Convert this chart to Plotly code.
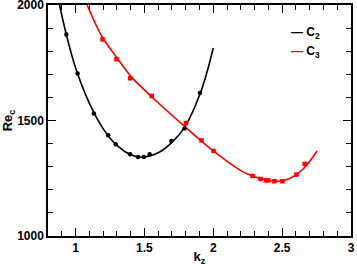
import plotly.graph_objects as go

# C2 mode: computed points and fitted curve
c2_kz = [0.933, 1.015, 1.133, 1.237, 1.292, 1.396, 1.454, 1.495, 1.538, 1.696, 1.792, 1.903]
c2_re = [1872, 1703, 1530, 1436, 1397, 1354, 1342, 1342, 1354, 1411, 1465, 1619]
c2_fit_kz = [0.884, 0.933, 1.0, 1.1, 1.2, 1.3, 1.4, 1.48, 1.6, 1.7, 1.8, 1.9, 1.95, 2.0]
c2_fit_re = [2000, 1872, 1728, 1575, 1465, 1392, 1352, 1341, 1360, 1405, 1478, 1609, 1700, 1814]

# C3 mode
c3_kz = [1.196, 1.297, 1.396, 1.553, 1.802, 1.915, 2.002, 2.285, 2.343, 2.382, 2.399, 2.444, 2.502, 2.604, 2.664]
c3_re = [1851, 1765, 1683, 1606, 1489, 1414, 1368, 1260, 1247, 1241, 1241, 1237, 1237, 1266, 1312]
c3_fit_kz = [1.084, 1.15, 1.2, 1.3, 1.4, 1.55, 1.8, 2.0, 2.2, 2.3, 2.4, 2.46, 2.55, 2.65, 2.754]
c3_fit_re = [2000, 1912, 1855, 1772, 1692, 1604, 1470, 1368, 1283, 1256, 1240, 1237, 1248, 1289, 1368]

x_ticks = [1, 1.5, 2, 2.5, 3]
y_ticks = [1000, 1500, 2000]

series_names = ['C<sub>2</sub>', 'C<sub>3</sub>']
series_colors = ['black', '#ff0000']

FONT = 'Liberation Sans'

fig = go.Figure()

# fitted curves
fig.add_trace(go.Scatter(x=c2_fit_kz, y=c2_fit_re, mode='lines', line_shape='spline',
                         line=dict(color=series_colors[0], width=1.6), showlegend=False))
fig.add_trace(go.Scatter(x=c3_fit_kz, y=c3_fit_re, mode='lines', line_shape='spline',
                         line=dict(color=series_colors[1], width=1.6), showlegend=False))

# data points
fig.add_trace(go.Scatter(x=c2_kz, y=c2_re, mode='markers',
                         marker=dict(color=series_colors[0], size=4.5, symbol='circle'),
                         showlegend=False))
fig.add_trace(go.Scatter(x=c3_kz, y=c3_re, mode='markers',
                         marker=dict(color=series_colors[1], size=4.5, symbol='square'),
                         showlegend=False))

axis_common = dict(
    showline=True, linecolor='black', linewidth=1.5, mirror='allticks',
    ticks='inside', ticklen=8, tickwidth=1.2, tickcolor='black',
    showgrid=False, zeroline=False, automargin=False, ticklabeloverflow='allow',
    tickfont=dict(family=FONT, size=12, color='black', weight='bold'),
)

fig.update_xaxes(
    range=[0.8, 3], tickvals=x_ticks, ticktext=[str(v) for v in x_ticks],
    minor=dict(ticks='inside', dtick=0.1, tick0=0, ticklen=5, tickwidth=1, tickcolor='black'),
    title=dict(text='<b>k<sub>z</sub></b>', font=dict(family=FONT, size=13, color='black')),
    **axis_common)
fig.update_yaxes(
    range=[1000, 2000], tickvals=y_ticks,
    minor=dict(ticks='inside', dtick=100, tick0=0, ticklen=5, tickwidth=1, tickcolor='black'),
    title=dict(text='<b>Re<sub>c</sub></b>', font=dict(family=FONT, size=13, color='black')),
    **axis_common)

# small legend: short coloured dash followed by the series label
for i, (name, col) in enumerate(zip(series_names, series_colors)):
    fig.add_annotation(
        xref='paper', yref='paper', x=0.795, y=0.88 - i * 0.082,
        xanchor='left', yanchor='middle', showarrow=False,
        text=f"<b><span style=\"color:{col}\">—</span> {name}</b>",
        font=dict(family=FONT, size=12, color='black'))

fig.update_layout(
    width=357, height=266,
    margin=dict(l=48, r=6, t=5, b=30),
    plot_bgcolor='white', paper_bgcolor='white',
    showlegend=False,
)

# drop the page's default body margin so the figure sits at the window corner
fig.write_html("out.html", config={'displayModeBar': False},
               post_script="document.body.style.margin='0px';")
